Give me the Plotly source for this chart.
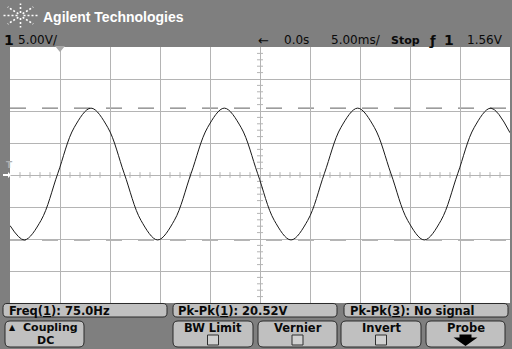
import math
import plotly.graph_objects as go

t_ms = [-25.0, -23.57, -21.90, -20.23, -18.57, -16.90, -15.23, -13.57, -11.90, -10.23,
        -8.57, -6.90, -5.23, -3.57, -1.90, -0.23, 1.43, 3.10, 4.77, 6.43,
        8.10, 9.77, 11.43, 13.10, 14.77, 16.43, 18.10, 19.77, 21.43, 23.10, 25.0]
volts = [-7.9, -10.15, -7.1, 0.2, 7.45, 10.45, 7.45, 0.2, -7.1, -10.15,
         -7.1, 0.2, 7.45, 10.45, 7.45, 0.2, -7.1, -10.15, -7.1, 0.2,
         7.45, 10.45, 7.45, 0.2, -7.1, -10.15, -7.1, 0.2, 7.45, 10.45, 6.6]
header_left = ["1", "5.00V/"]
header_right = ["←", "0.0s", "5.00ms/", "Stop", "ƒ", "1", "1.56V"]
measurements = ["Freq(<span style='text-decoration:underline'>1</span>): 75.0Hz",
                "Pk-Pk(<span style='text-decoration:underline'>1</span>): 20.52V",
                "Pk-Pk(<span style='text-decoration:underline'>3</span>): No signal"]
buttons = ["Coupling", "BW Limit", "Vernier", "Invert", "Probe"]

W, H = 512, 349
L, R, T, B = 10, 510, 47, 303
GRAY = "#7f7f7f"
LIGHT = "#c0c0c0"
GRID = "#b4b4b4"
FONT = "Liberation Sans, Arial, sans-serif"
FONT2 = "DejaVu Sans, sans-serif"


def px(x):
    return (x - L) / (R - L)


def py(y):
    return (B - y) / (B - T)


def rrect(x0, y0, x1, y1, r):
    def p(x, y):
        return f"{px(x):.5f},{py(y):.5f}"
    return (f"M{p(x0 + r, y0)} L{p(x1 - r, y0)} Q{p(x1, y0)} {p(x1, y0 + r)} "
            f"L{p(x1, y1 - r)} Q{p(x1, y1)} {p(x1 - r, y1)} L{p(x0 + r, y1)} "
            f"Q{p(x0, y1)} {p(x0, y1 - r)} L{p(x0, y0 + r)} Q{p(x0, y0)} {p(x0 + r, y0)} Z")


def poly(pts):
    return "M" + " L".join(f"{px(x):.5f},{py(y):.5f}" for x, y in pts) + " Z"


fig = go.Figure()
fig.add_trace(go.Scatter(x=t_ms, y=volts, mode="lines",
                         line=dict(color="#1a1a1a", width=1, shape="spline", smoothing=1.0),
                         hoverinfo="skip", showlegend=False))

shapes = []
# measurement cursor lines (Pk-Pk)
for v in (max(volts), min(volts)):
    shapes.append(dict(type="line", xref="x", yref="y", x0=-25, x1=25, y0=v, y1=v,
                       line=dict(color="#5e5e5e", width=1, dash="16px,16px"), layer="below"))

# center crosshair minor ticks
for i in range(-25, 26):
    if i % 5 != 0:
        shapes.append(dict(type="line", xref="x", yref="y", x0=i, x1=i, y0=-0.45, y1=0.45,
                           line=dict(color=GRID, width=1), layer="below"))
for j in range(-20, 21):
    if j % 5 != 0:
        shapes.append(dict(type="line", xref="x", yref="y", x0=-0.3, x1=0.3, y0=j, y1=j,
                           line=dict(color=GRID, width=1), layer="below"))

# delay marker at top
shapes.append(dict(type="path", xref="paper", yref="paper",
                   path=poly([(55, 46), (65, 46), (60, 52)]),
                   fillcolor="#a8a8a8", line=dict(width=0)))

# Agilent star logo
cx, cy = 20.5, 15.5
for k in range(8):
    a = k * math.pi / 4
    shapes.append(dict(type="line", xref="paper", yref="paper",
                       x0=px(cx + 3 * math.cos(a)), y0=py(cy - 2.5 * math.sin(a)),
                       x1=px(cx + 18 * math.cos(a)), y1=py(cy - 12 * math.sin(a)),
                       line=dict(color="white", width=1.6, dash="2px,2px")))

# measurement boxes
meas_boxes = [(3, 303.5, 167, 317), (173, 303.5, 337, 317), (344, 303.5, 508, 317)]
for (x0, y0, x1, y1) in meas_boxes:
    shapes.append(dict(type="path", xref="paper", yref="paper", path=rrect(x0, y0, x1, y1, 4),
                       fillcolor=LIGHT, line=dict(color="#2a2a2a", width=1)))

# softkey buttons
btn_boxes = [(5, 321, 84, 347), (173, 321, 253, 347), (258, 321, 337, 347),
             (341, 321, 421, 347), (426, 321, 505, 347)]
for (x0, y0, x1, y1) in btn_boxes:
    shapes.append(dict(type="path", xref="paper", yref="paper", path=rrect(x0, y0, x1, y1, 5),
                       fillcolor=LIGHT, line=dict(color="#2a2a2a", width=1)))
# checkboxes
for (x0, y0, x1, y1) in btn_boxes[1:4]:
    c = (x0 + x1) / 2
    shapes.append(dict(type="rect", xref="paper", yref="paper",
                       x0=px(c - 5.5), x1=px(c + 5.5), y0=py(345), y1=py(335),
                       fillcolor="#d0d0d0", line=dict(color="#303030", width=1)))
# probe arrow
pc = (btn_boxes[4][0] + btn_boxes[4][2]) / 2
shapes.append(dict(type="path", xref="paper", yref="paper",
                   path=poly([(pc - 6, 334.5), (pc + 6, 334.5), (pc + 6, 337.5), (pc + 12, 337.5),
                              (pc, 346), (pc - 12, 337.5), (pc - 6, 337.5)]),
                   fillcolor="#000000", line=dict(width=0)))
# left ground marker
shapes.append(dict(type="path", xref="paper", yref="paper",
                   path=poly([(3, 174), (8, 174), (8, 172), (11, 175), (8, 178), (8, 176), (3, 176)]),
                   fillcolor="white", line=dict(width=0)))

ann = []


def text(x, y, s, size=12, color="#0a0a0a", bold=False, xanchor="left", family=FONT2):
    ann.append(dict(x=px(x), y=py(y), xref="paper", yref="paper", text=(f"<b>{s}</b>" if bold else s),
                    showarrow=False, xanchor=xanchor, yanchor="middle",
                    font=dict(family=family, size=size, color=color)))


text(41, 17, "Agilent Technologies", size=14, color="white", bold=True, family=FONT)
text(2, 40, header_left[0], size=14, bold=True)
text(16, 40, header_left[1], size=12)
pos = [(256, False, 13), (282, False, 12), (329, False, 12), (389, True, 11),
       (427, True, 13), (442, True, 14), (465, False, 12)]
for s, (x, b, sz) in zip(header_right, pos):
    text(x, 40, s, size=sz, bold=b)
text(4, 165, "T", size=9, color="#b0b0b0", bold=True)

for s, x in zip(measurements, (7, 176, 348)):
    text(x, 310.5, s, size=11.5, bold=True)

text(7, 327.5, "▲", size=8, bold=True)
text(45 + 5, 327.5, buttons[0], size=11, bold=True, xanchor="center")
text(45, 340.5, "DC", size=11, bold=True, xanchor="center")
for s, (x0, y0, x1, y1) in zip(buttons[1:], btn_boxes[1:]):
    text((x0 + x1) / 2, 327.5, s, size=11.5, bold=True, xanchor="center")

fig.update_layout(
    width=W, height=H,
    margin=dict(l=L, r=W - R, t=T, b=H - B, pad=0),
    paper_bgcolor=GRAY, plot_bgcolor="white",
    xaxis=dict(range=[-25, 25], dtick=5, tick0=0, showgrid=True, gridcolor=GRID, gridwidth=1,
               zeroline=False, showticklabels=False, ticks="", showline=False, fixedrange=True),
    yaxis=dict(range=[-20, 20], dtick=5, tick0=0, showgrid=True, gridcolor=GRID, gridwidth=1,
               zeroline=False, showticklabels=False, ticks="", showline=False, fixedrange=True),
    shapes=shapes, annotations=ann, showlegend=False,
)
fig.write_html("out.html")
